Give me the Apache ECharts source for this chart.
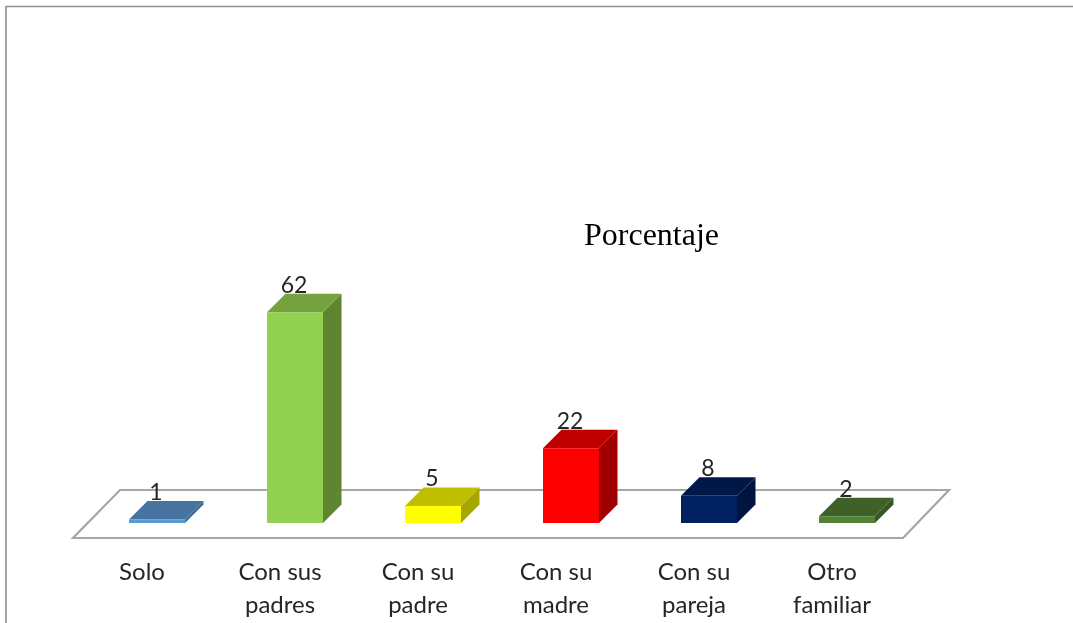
<!DOCTYPE html>
<html><head><meta charset="utf-8">
<style>html,body{margin:0;padding:0;background:#fff}#c{width:1073px;height:623px}</style>
<script src="https://cdn.jsdelivr.net/npm/echarts@6/dist/echarts.min.js"></script>
</head><body><div id="c"></div>
<script>
const categories = ['Solo','Con sus\npadres','Con su\npadre','Con su\nmadre','Con su\npareja','Otro\nfamiliar'];
const values = [1,62,5,22,8,2];
const frontColors = ['#5b9bd5','#92d14f','#ffff00','#ff0000','#002060','#548235'];
const topColors   = ['#44749f','#76a23f','#bfbf00','#c00000','#001848','#3f6027'];
const sideColors  = ['#3e6a94','#5f8531','#a6a600','#a00000','#001440','#375623'];
const DEPTH = 18.5, BAR_W = 56, FONT = 'Lato, Carlito, "Noto Sans", sans-serif';

const chart = echarts.init(document.getElementById('c'), null, {renderer:'canvas'});
chart.setOption({
  animation:false,
  backgroundColor:'#fff',
  title:{text:'Porcentaje',left:584,top:221,padding:0,
    textStyle:{fontFamily:'"Liberation Serif"',fontSize:32,fontWeight:'normal',color:'#000'}},
  graphic:[
    {type:'polyline',silent:true,shape:{points:[[6,623],[6,6.5],[1073,6.5]]},
     style:{stroke:'#8f8f8f',lineWidth:1.6,fill:null}}
  ],
  grid:{left:88,width:828,top:285,height:238,containLabel:false},
  xAxis:{type:'category',data:categories,
    axisLine:{show:false},axisTick:{show:false},splitLine:{show:false},
    axisLabel:{interval:0,margin:33,fontFamily:FONT,fontSize:24,lineHeight:33,color:'#262626',verticalAlign:'top',padding:[0,30,0,0]}},
  yAxis:{type:'value',min:0,max:70,show:false,splitLine:{show:false}},
  series:[
    {type:'custom',coordinateSystem:'cartesian2d',silent:true,z:1,data:[0],
     renderItem(params,api){
       const g=params.coordSys, b=g.y+g.height;
       return {type:'polygon',shape:{points:[
         [g.x-15,b+15],[g.x+g.width-13,b+15],[g.x+g.width+33,b-33],[g.x+32,b-33]]},
         style:{fill:'#fff',stroke:'#a6a6a6',lineWidth:2.2}};
     }},
    {type:'custom',coordinateSystem:'cartesian2d',silent:true,z:2,
     encode:{x:0,y:1},
     data:categories.map((c,i)=>[i,values[i]]),
     renderItem(params,api){
       const i=params.dataIndex, v=api.value(1);
       const p=api.coord([i,v]), base=api.coord([i,0]);
       const l=p[0]-BAR_W/2, r=p[0]+BAR_W/2, t=p[1], b=base[1], d=DEPTH;
       return {type:'group',children:[
         {type:'polygon',shape:{points:[[r,t],[r+d,t-d],[r+d,b-d],[r,b]]},style:{fill:sideColors[i]}},
         {type:'polygon',shape:{points:[[l,t],[l+d,t-d],[r+d,t-d],[r,t]]},style:{fill:topColors[i]}},
         {type:'rect',shape:{x:l,y:t,width:BAR_W,height:b-t},style:{fill:frontColors[i]}},
         {type:'text',style:{text:String(v),x:p[0]-1,y:t-d-8.5,align:'center',verticalAlign:'middle',
           font:'23px '+FONT,fill:'#262626'}}
       ]};
     }}
  ]
});
</script></body></html>
